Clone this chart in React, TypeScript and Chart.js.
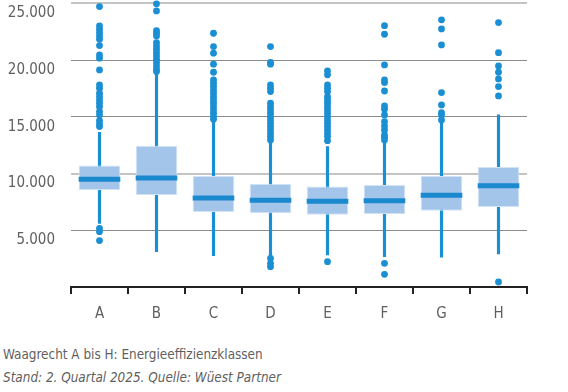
import { useEffect, useRef } from 'react';
import { Chart, registerables } from 'chart.js';

Chart.register(...registerables);

// Energieeffizienzklassen (x axis)
const classes = ['A', 'B', 'C', 'D', 'E', 'F', 'G', 'H'];

// Box-plot statistics per class
const whiskerLow = [5600, 3110, 2760, 2730, 2820, 2670, 2620, 2910];
const q1 = [8550, 8110, 6610, 6500, 6380, 6440, 6730, 7060];
const median = [9500, 9610, 7850, 7650, 7560, 7610, 8090, 8930];
const q3 = [10720, 12460, 9790, 9110, 8850, 9000, 9790, 10580];
const whiskerHigh = [13640, 18850, 14580, 12730, 12370, 12800, 14580, 15170];

// Outliers per class
const outliersA = [24720, 23020, 22720, 22430, 22130, 21840, 21280, 20460, 20170, 19140, 17810, 17520, 17080, 16790, 16490, 16200, 15900, 15460, 15170, 14670, 14370, 14140, 5170, 4880, 4090];
const outliersB = [24960, 24340, 22600, 22370, 22130, 21550, 21250, 20960, 20660, 20370, 20080, 19780, 19490, 19190, 18990];
const outliersC = [22370, 21190, 20610, 19640, 18930, 18250, 17960, 17670, 17370, 17080, 16780, 16490, 16200, 15900, 15610, 15310, 15020, 14780];
const outliersD = [21190, 19810, 19640, 17810, 17520, 17230, 16200, 15900, 15610, 15310, 15020, 14730, 14430, 14140, 13850, 13550, 13260, 12960, 2530, 2090, 1790];
const outliersE = [19050, 18700, 17810, 17520, 17230, 16780, 16490, 16200, 15900, 15610, 15310, 15020, 14730, 14430, 14140, 13850, 13550, 13260, 12900, 2230];
const outliersF = [23040, 22280, 19580, 18250, 18020, 17280, 15960, 15670, 15170, 14580, 14200, 13850, 13400, 13200, 12960, 2090, 1120];
const outliersG = [23550, 22750, 21340, 17140, 16050, 15370, 15170, 14730];
const outliersH = [23310, 20660, 19490, 18930, 18340, 17670, 16840, 440];
const outliers = [outliersA, outliersB, outliersC, outliersD, outliersE, outliersF, outliersG, outliersH];

const yMax = 25000;
const yStep = 5000;

const BLUE = '#1b8fd3';
const MEDIAN_BLUE = '#1a89cd';
const BOX_FILL = '#a4c5ea';
const BOX_EDGE = '#d3e3f6';
const TEXT = '#5f5f5f';
const FONT = '"Liberation Sans Narrow", "DejaVu Sans Condensed", "Arial Narrow", sans-serif';

const formatThousands = (v: number) => String(v).replace(/\B(?=(\d{3})+(?!\d))/g, '.');

// Draws the median bar across each box, using the box element geometry and y scale
const medianPlugin = {
  id: 'medianLines',
  afterDatasetsDraw(chart: any) {
    const meta = chart.getDatasetMeta(1);
    const yScale = chart.scales.y;
    const ctx = chart.ctx;
    ctx.save();
    ctx.strokeStyle = MEDIAN_BLUE;
    ctx.lineWidth = 5;
    meta.data.forEach((bar: any, i: number) => {
      const { x, width } = bar.getProps(['x', 'width'], true);
      const py = yScale.getPixelForValue(median[i]);
      ctx.beginPath();
      ctx.moveTo(x - width / 2, py);
      ctx.lineTo(x + width / 2, py);
      ctx.stroke();
    });
    ctx.restore();
  },
};

export default function App() {
  const canvasRef = useRef<HTMLCanvasElement | null>(null);

  useEffect(() => {
    const canvas = canvasRef.current;
    if (!canvas) return;

    const outlierPoints = outliers.flatMap((list, i) => list.map((v) => ({ x: classes[i], y: v })));

    const chart = new Chart(canvas, {
      type: 'bar',
      data: {
        labels: classes,
        datasets: [
          {
            type: 'line',
            label: 'Ausreisser',
            data: outlierPoints as any,
            showLine: false,
            pointRadius: 3.4,
            pointHoverRadius: 3.4,
            pointBackgroundColor: BLUE,
            pointBorderWidth: 0,
            borderColor: BLUE,
            clip: false as any,
            order: 0,
          } as any,
          {
            type: 'bar',
            label: 'Quartile',
            data: classes.map((_, i) => [q1[i], q3[i]]) as any,
            backgroundColor: BOX_FILL,
            borderColor: BOX_EDGE,
            borderWidth: 1,
            borderSkipped: false,
            barPercentage: 0.73,
            categoryPercentage: 1,
            grouped: false,
            order: 1,
          } as any,
          {
            type: 'bar',
            label: 'Spannweite',
            data: classes.map((_, i) => [whiskerLow[i], whiskerHigh[i]]) as any,
            backgroundColor: BLUE,
            borderWidth: 0,
            barThickness: 2.5,
            grouped: false,
            order: 2,
          } as any,
        ],
      },
      options: {
        animation: false,
        responsive: false,
        devicePixelRatio: 1,
        layout: { padding: { top: 3, right: 41, left: 0, bottom: 0 } },
        plugins: {
          legend: { display: false },
          tooltip: { enabled: false },
        },
        scales: {
          x: {
            offset: true,
            grid: {
              offset: true,
              drawOnChartArea: false,
              drawTicks: true,
              tickLength: 7,
              color: '#222222',
              lineWidth: 2,
            },
            border: { display: true, color: '#222222', width: 2 },
            ticks: {
              color: TEXT,
              font: { family: FONT, size: 15 },
              padding: 11,
            },
            afterFit(scale: any) {
              scale.height = 43;
            },
          },
          y: {
            min: 0,
            max: yMax,
            ticks: {
              stepSize: yStep,
              color: TEXT,
              font: { family: FONT, size: 15 },
              padding: 16,
              labelOffset: 10,
              callback: (v: any) => (Number(v) === 0 ? '' : formatThousands(Number(v))),
            },
            grid: {
              drawTicks: false,
              color: (ctx: any) => {
                const v = ctx.tick?.value;
                if (v === 0) return 'rgba(0,0,0,0)';
                return v === 10000 || v === 25000 ? '#c4c4c4' : '#8c8c8c';
              },
              lineWidth: (ctx: any) => {
                const v = ctx.tick?.value;
                return v === 10000 || v === 25000 ? 2 : 1;
              },
            },
            border: { display: false },
            afterFit(scale: any) {
              scale.width = 71;
              scale.paddingTop = 0;
              scale.paddingBottom = 0;
            },
          },
        },
      },
      plugins: [medianPlugin],
    });

    return () => chart.destroy();
  }, []);

  const noteStyle: React.CSSProperties = {
    position: 'absolute',
    left: 3,
    fontFamily: FONT,
    fontSize: 13.4,
    lineHeight: '18px',
    color: TEXT,
    whiteSpace: 'nowrap',
  };

  return (
    <div style={{ position: 'fixed', left: 0, top: 0, width: 568, height: 392, background: '#ffffff' }}>
      <canvas ref={canvasRef} width={568} height={330} style={{ display: 'block' }} />
      <div style={{ ...noteStyle, top: 346 }}>Waagrecht A bis H: Energieeffizienzklassen</div>
      <div style={{ ...noteStyle, top: 369, fontStyle: 'italic' }}>Stand: 2. Quartal 2025. Quelle: Wüest Partner</div>
    </div>
  );
}
